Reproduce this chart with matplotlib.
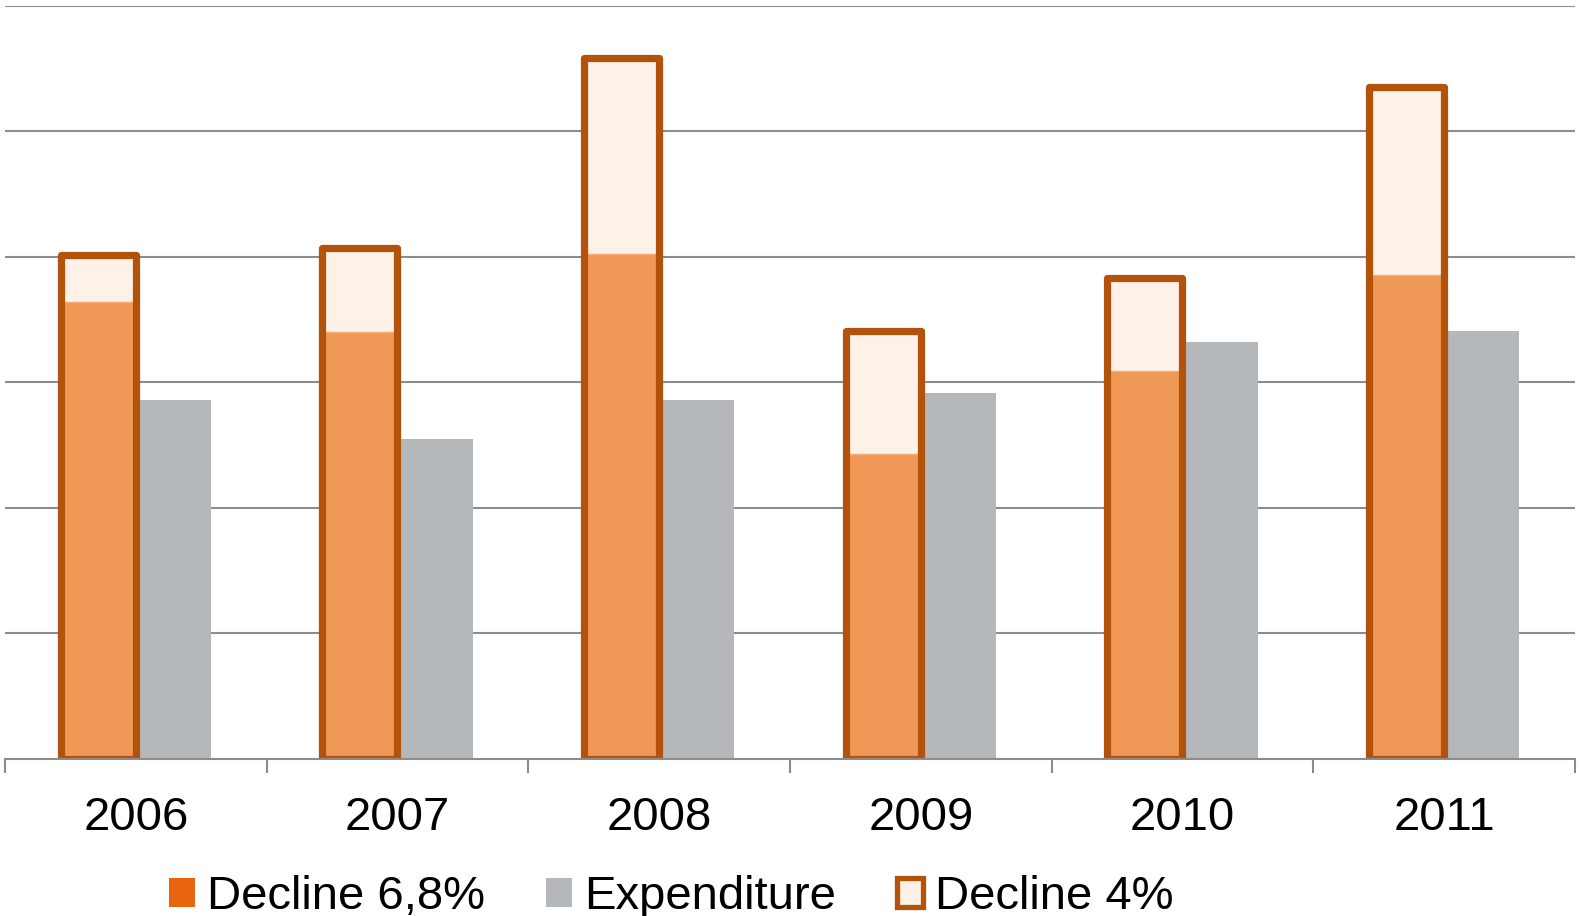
import matplotlib.pyplot as plt
from matplotlib.patches import Patch
import numpy as np

plt.rcParams['font.family'] = ['Liberation Sans', 'DejaVu Sans']

years = ['2006', '2007', '2008', '2009', '2010', '2011']
decline_4 = [4.01, 4.07, 5.58, 3.41, 3.83, 5.35]
decline_68 = [3.64, 3.40, 4.02, 2.43, 3.09, 3.85]
expenditure = [2.86, 2.55, 2.86, 2.91, 3.32, 3.41]

edge_col = '#B3520A'
light_col = '#FDF1E8'
orange_col = '#F09855'
legend_orange = '#E9650D'
gray_col = '#B4B8BB'

fig = plt.figure(figsize=(15.8, 9.16), dpi=100)
ax = fig.add_axes([5 / 1580, 157.3 / 916, 1570 / 1580, 753.2 / 916])

x = np.arange(len(years))
w = 0.287

# outlined bar background, then the filled part, then the outline on top
ax.bar(x - w / 2, decline_4, w, color=light_col, linewidth=0, zorder=2)
ax.bar(x - w / 2, decline_68, w, color=orange_col, edgecolor='#F4AD78',
       linewidth=1.0, zorder=3)
ax.bar(x - w / 2, decline_4, w, fill=False, edgecolor=edge_col,
       linewidth=5.2, joinstyle='round', zorder=4)
ax.bar(x + w / 2, expenditure, w, color=gray_col, linewidth=0, zorder=2)

ax.set_xlim(-0.5, len(years) - 0.5)
ax.set_ylim(0, 6)
ax.set_yticks(np.arange(1, 7))
ax.yaxis.grid(True, color='#8C8C8C', linewidth=1.5, zorder=1)
ax.set_axisbelow(True)
ax.tick_params(axis='y', left=False, labelleft=False)

for s in ['top', 'right', 'left']:
    ax.spines[s].set_visible(False)
ax.spines['bottom'].set_color('#8C8C8C')
ax.spines['bottom'].set_linewidth(1.5)
ax.spines['bottom'].set_zorder(5)

ax.set_xticks(x)
ax.set_xticklabels(years, fontsize=34)
ax.tick_params(axis='x', length=0, pad=27)
ax.set_xticks(np.arange(-0.5, len(years)), minor=True)
ax.tick_params(axis='x', which='minor', length=10, width=1.5, color='#8C8C8C')

handles = [
    Patch(facecolor=legend_orange, edgecolor='none'),
    Patch(facecolor=gray_col, edgecolor='none'),
    Patch(facecolor=light_col, edgecolor=edge_col, linewidth=3.8, joinstyle='round'),
]
labels = ['Decline 6,8%', 'Expenditure', 'Decline 4%']
fig.legend(handles, labels, loc='center', bbox_to_anchor=(671 / 1580, 1 - 897 / 916),
           ncol=3, frameon=False, fontsize=34, handlelength=0.55, handleheight=0.55,
           handletextpad=0.25, columnspacing=1.3, borderpad=0)

fig.savefig('out.png', dpi=100)
